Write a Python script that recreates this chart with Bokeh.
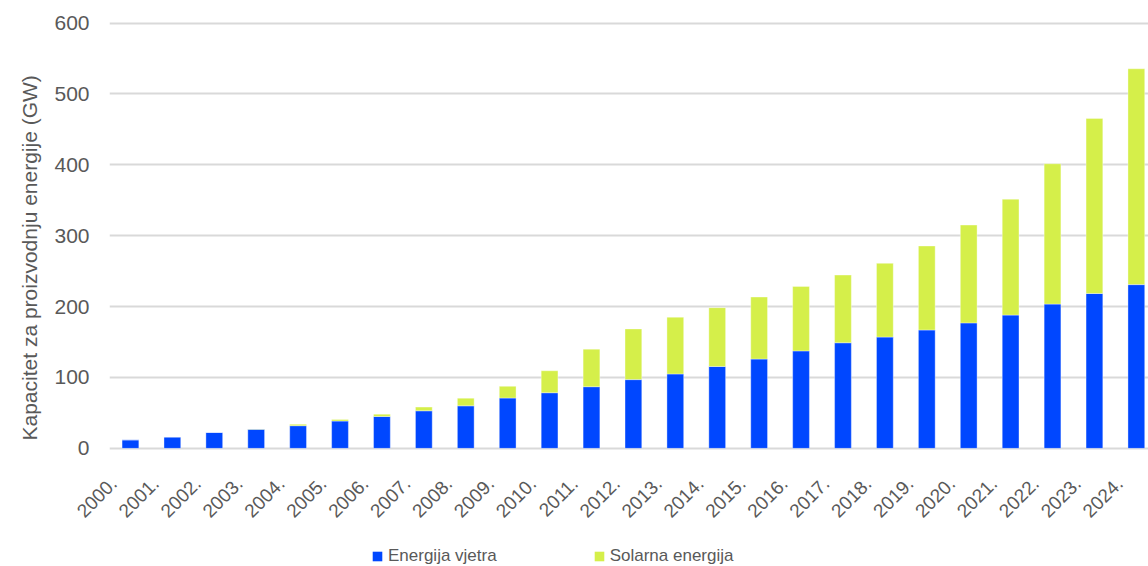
from bokeh.plotting import figure
from bokeh.models import Range1d, FixedTicker, Legend, LegendItem, Title, ColumnDataSource
from bokeh.layouts import column
from bokeh.transform import dodge
from bokeh.embed import file_html
from bokeh.resources import INLINE
import math

years = ["2000.", "2001.", "2002.", "2003.", "2004.", "2005.", "2006.", "2007.", "2008.",
         "2009.", "2010.", "2011.", "2012.", "2013.", "2014.", "2015.", "2016.", "2017.",
         "2018.", "2019.", "2020.", "2021.", "2022.", "2023.", "2024."]
wind = [12, 16, 22.5, 27, 32, 38.5, 45, 53, 60, 71, 78.5, 87, 97, 105, 115.5, 126,
        137.5, 149, 157, 167, 177, 188, 203.5, 218.5, 231]
solar = [0, 0, 0, 0.3, 2, 2.4, 3.3, 5.2, 10.8, 16.5, 31, 53, 71.5, 80, 83, 87.5,
         91, 95.5, 104, 118.5, 138, 163.5, 198, 247, 304.5]
y_ticks = [0, 100, 200, 300, 400, 500, 600]
series_names = ["Energija vjetra", "Solarna energija"]

BLUE = "#0047ff"
GREEN = "#d5ef4a"
TXT = "#595959"
FONT = "Liberation Sans"
SHIFT = 0.4  # bar centre sits to the right of the rotated label's anchor

idx = list(range(len(years)))
src = ColumnDataSource(dict(x=idx, wind=wind, solar=solar,
                            top=[w + s for w, s in zip(wind, solar)]))

p = figure(width=1148, height=530, output_backend="svg", toolbar_location=None,
           x_range=Range1d(-0.5 + SHIFT, 24.29 + SHIFT), y_range=Range1d(-3, 605),
           min_border_left=109, min_border_right=0, min_border_top=19, min_border_bottom=80)
p.outline_line_color = None

xs = dodge("x", SHIFT, range=p.x_range)
p.vbar(x=xs, bottom=0, top="wind", width=0.4, source=src,
       fill_color=BLUE, line_color="white", line_width=0.6, line_alpha=0.6)
p.vbar(x=xs, bottom="wind", top="top", width=0.4, source=src,
       fill_color=GREEN, line_color="white", line_width=0.6, line_alpha=0.6)

p.xgrid.grid_line_color = None
p.ygrid.ticker = FixedTicker(ticks=y_ticks)
p.ygrid.grid_line_color = "#d9d9d9"
p.ygrid.grid_line_width = 2

p.yaxis.ticker = FixedTicker(ticks=y_ticks)
p.yaxis.axis_line_color = None
p.yaxis.major_tick_line_color = None
p.yaxis.minor_tick_line_color = None
p.yaxis.major_tick_out = 0
p.yaxis.minor_tick_out = 0
p.yaxis.major_label_standoff = 20
p.yaxis.major_label_text_font = FONT
p.yaxis.major_label_text_font_size = "21px"
p.yaxis.major_label_text_color = TXT

p.xaxis.ticker = FixedTicker(ticks=idx)
p.xaxis.major_label_overrides = {i: y for i, y in enumerate(years)}
p.xaxis.axis_line_color = None
p.xaxis.major_tick_line_color = None
p.xaxis.minor_tick_line_color = None
p.xaxis.major_label_orientation = math.pi / 4
p.xaxis.major_label_standoff = 24
p.xaxis.major_label_text_font = FONT
p.xaxis.major_label_text_font_size = "19px"
p.xaxis.major_label_text_color = TXT

ttl = Title(text="Kapacitet za proizvodnju energije (GW)", align="left", offset=10,
            vertical_align="top",
            text_font=FONT, text_font_size="21px", text_font_style="normal",
            text_color=TXT, standoff=18)
p.add_layout(ttl, "left")

# legend strip below the chart (its bars lie outside its own visible range)
p2 = figure(width=1148, height=36, output_backend="svg", toolbar_location=None,
            x_axis_location=None, y_axis_location=None,
            x_range=Range1d(-3, -2), y_range=Range1d(0, 1),
            min_border_left=0, min_border_right=0, min_border_top=0, min_border_bottom=0)
p2.outline_line_color = None
p2.grid.visible = False
l1 = p2.vbar(x="x", top="wind", width=0.4, source=src, fill_color=BLUE, line_color=None)
l2 = p2.vbar(x="x", top="solar", width=0.4, source=src, fill_color=GREEN, line_color=None)
legend = Legend(items=[LegendItem(label=series_names[0], renderers=[l1]),
                       LegendItem(label=series_names[1], renderers=[l2])],
                location=(262, 0), orientation="horizontal",
                border_line_color=None, background_fill_alpha=0,
                padding=0, margin=0, spacing=96,
                glyph_width=12, glyph_height=12, label_standoff=5, label_height=18,
                label_text_font=FONT, label_text_font_size="17px", label_text_color=TXT)
p2.add_layout(legend, "center")

open("out.html", "w").write(file_html(column(p, p2, spacing=0), INLINE))
